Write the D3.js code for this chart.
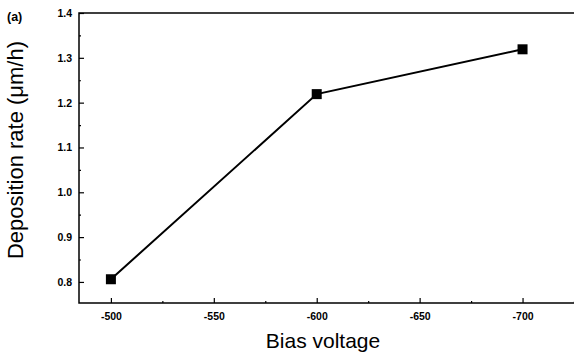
<!DOCTYPE html>
<html lang="en">
<head>
  <meta charset="utf-8">
  <script src="https://d3js.org/d3.v7.min.js"></script>
  <style>
    body { margin: 0; background: #fff; }
    .tick text { font-family: "Liberation Sans", Arial, sans-serif; font-weight: bold; font-size: 10.5px; }
  </style>
</head>
<body>
<svg width="574" height="356"></svg>
<script>
  // data
  var biasVoltage = [-500, -600, -700];
  var depositionRate = [0.806, 1.219, 1.319];
  var xTicks = [-500, -550, -600, -650, -700];
  var yTicks = [0.8, 0.9, 1.0, 1.1, 1.2, 1.3, 1.4];

  var svg = d3.select("svg");
  var plotL = 79, plotR = 574, plotT = 13, plotB = 303;

  var x = d3.scaleLinear().domain([-484.5, -725]).range([plotL, plotR]);
  var y = d3.scaleLinear().domain([0.753, 1.4]).range([plotB, plotT]);

  /* frame: left, top, bottom (no right side) */
  svg.append("path")
      .attr("d", "M" + plotR + "," + plotT + "H" + plotL + "V" + plotB + "H" + plotR)
      .attr("fill", "none").attr("stroke", "#000").attr("stroke-width", 1.5);

  // x axis, ticks pointing inward
  var xAxis = svg.append("g").attr("transform", "translate(0," + plotB + ")")
      .call(d3.axisBottom(x).tickValues(xTicks).tickSize(-5).tickPadding(10)
        .tickFormat(function(d) { return "-" + Math.abs(d); }));
  xAxis.select(".domain").remove();
  svg.append("g").attr("transform", "translate(0," + plotB + ")")
      .call(d3.axisBottom(x).tickValues([-525, -575, -625, -675, -725]).tickSize(-2).tickFormat(""))
      .select(".domain").remove();

  var yAxis = svg.append("g").attr("transform", "translate(" + plotL + ",0)")
      .call(d3.axisLeft(y).tickValues(yTicks).tickSize(-5).tickPadding(7)
        .tickFormat(d3.format(".1f")));
  yAxis.select(".domain").remove();
  svg.append("g").attr("transform", "translate(" + plotL + ",0)")
      .call(d3.axisLeft(y).tickValues([0.85, 0.95, 1.05, 1.15, 1.25, 1.35]).tickSize(-2).tickFormat(""))
      .select(".domain").remove();

  svg.selectAll(".tick line").attr("stroke-width", 1.2);

  var pts = biasVoltage.map(function(v, i) { return [v, depositionRate[i]]; });

  svg.append("path")
      .datum(pts)
      .attr("fill", "none").attr("stroke", "#000").attr("stroke-width", 2)
      .attr("d", d3.line().x(function(d) { return x(d[0]); }).y(function(d) { return y(d[1]); }));

  svg.selectAll("rect.pt").data(pts).enter().append("rect")
      .attr("class", "pt")
      .attr("x", function(d) { return x(d[0]) - 5; })
      .attr("y", function(d) { return y(d[1]) - 5; })
      .attr("width", 10).attr("height", 10)
      .attr("fill", "#000");

  svg.append("text").attr("x", 7).attr("y", 21)
      .style("font-family", "Liberation Sans, Arial, sans-serif").style("font-weight", "bold").style("font-size", "12.5px")
      .text("(a)");

  svg.append("text")
      .attr("x", 323).attr("y", 348).attr("text-anchor", "middle")
      .style("font-family", "Liberation Sans, Arial, sans-serif").style("font-size", "21px")
      .text("Bias voltage");

  svg.append("text")
      .attr("transform", "translate(23,150) rotate(-90)").attr("text-anchor", "middle")
      .style("font-family", "Liberation Sans, Arial, sans-serif").style("font-size", "22px")
      .text("Deposition rate (μm/h)");
</script>
</body>
</html>
